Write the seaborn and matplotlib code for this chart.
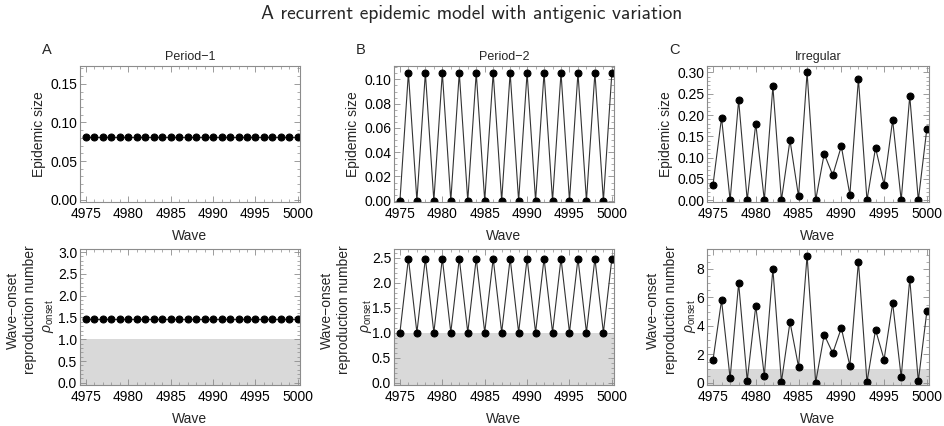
import matplotlib
matplotlib.use('Agg')
import matplotlib.pyplot as plt
from matplotlib.ticker import MultipleLocator
import seaborn as sns
import pandas as pd

# data
waves = list(range(4975, 5001))

size_p1 = [0.081, 0.081, 0.081, 0.081, 0.081, 0.081, 0.081, 0.081, 0.081, 0.081, 0.081, 0.081, 0.081,
           0.081, 0.081, 0.081, 0.081, 0.081, 0.081, 0.081, 0.081, 0.081, 0.081, 0.081, 0.081, 0.081]
rho_p1 = [1.46, 1.46, 1.46, 1.46, 1.46, 1.46, 1.46, 1.46, 1.46, 1.46, 1.46, 1.46, 1.46,
          1.46, 1.46, 1.46, 1.46, 1.46, 1.46, 1.46, 1.46, 1.46, 1.46, 1.46, 1.46, 1.46]

size_p2 = [0.0, 0.1055, 0.0, 0.1055, 0.0, 0.1055, 0.0, 0.1055, 0.0, 0.1055, 0.0, 0.1055, 0.0,
           0.1055, 0.0, 0.1055, 0.0, 0.1055, 0.0, 0.1055, 0.0, 0.1055, 0.0, 0.1055, 0.0, 0.1055]
rho_p2 = [1.0, 2.48, 1.0, 2.48, 1.0, 2.48, 1.0, 2.48, 1.0, 2.48, 1.0, 2.48, 1.0,
          2.48, 1.0, 2.48, 1.0, 2.48, 1.0, 2.48, 1.0, 2.48, 1.0, 2.48, 1.0, 2.48]

size_irr = [0.036, 0.194, 0.0, 0.235, 0.0, 0.180, 0.0, 0.267, 0.0, 0.141, 0.009, 0.300, 0.0,
            0.109, 0.059, 0.127, 0.013, 0.285, 0.0, 0.123, 0.037, 0.188, 0.0, 0.245, 0.0, 0.168]
rho_irr = [1.6, 5.8, 0.33, 7.0, 0.16, 5.4, 0.5, 8.0, 0.07, 4.27, 1.13, 8.94, 0.02,
           3.38, 2.09, 3.85, 1.2, 8.52, 0.05, 3.73, 1.64, 5.6, 0.4, 7.3, 0.12, 5.02]

titles = ['Period\u22121', 'Period\u22122', 'Irregular']
letters = ['A', 'B', 'C']
rho_label = ['Wave\u2212onset', 'reproduction number', '$\\rho_{\\mathrm{onset}}$']

sns.set_style('ticks')
plt.rcParams['font.family'] = ['Liberation Sans', 'DejaVu Sans']
plt.rcParams['mathtext.fontset'] = 'custom'
plt.rcParams['mathtext.it'] = 'Liberation Sans:italic'
plt.rcParams['mathtext.rm'] = 'Liberation Sans'

W, H = 944, 426
fig = plt.figure(figsize=(W / 100, H / 100), dpi=100)

def box(x0, y0, x1, y1):
    # pixel box -> figure fraction
    return [x0 / W, 1 - y1 / H, (x1 - x0) / W, (y1 - y0) / H]

top_boxes = [box(80, 66, 300, 202), box(394, 66, 614, 202), box(707, 66, 929, 202)]
bot_boxes = [box(80, 249, 300, 385), box(394, 249, 614, 385), box(707, 249, 929, 385)]
# x pixel centres of the three lines of the lower y label
rho_label_x = [(13, 30, 48), (327, 344, 366), (653, 671, 690)]

sizes = [size_p1, size_p2, size_irr]
rhos = [rho_p1, rho_p2, rho_irr]
top_ylims = [(-0.003, 0.173), (-0.001, 0.111), (-0.004, 0.315)]
top_major = [0.05, 0.02, 0.05]
top_minor = [0.01, 0.005, 0.01]
bot_ylims = [(-0.05, 3.07), (-0.05, 2.67), (-0.15, 9.4)]
bot_major = [0.5, 0.5, 2]
bot_minor = [0.1, 0.1, 0.5]
fmt_top = ['{:.2f}', '{:.2f}', '{:.2f}']
fmt_bot = ['{:.1f}', '{:.1f}', '{:.0f}']

grey = '#8c8c8c'


def style(ax, ylim, major, minor, fmt):
    ax.set_xlim(4974.3, 5000.25)
    ax.set_ylim(*ylim)
    ax.xaxis.set_major_locator(MultipleLocator(5))
    ax.xaxis.set_minor_locator(MultipleLocator(1))
    ax.yaxis.set_major_locator(MultipleLocator(major))
    ax.yaxis.set_minor_locator(MultipleLocator(minor))
    ax.yaxis.set_major_formatter(plt.FuncFormatter(lambda v, p: fmt.format(v)))
    ax.tick_params(which='both', direction='in', top=True, right=True, color=grey,
                   labelsize=10, pad=2, labelcolor='black')
    ax.tick_params(axis='x', pad=3.5)
    ax.tick_params(which='major', length=4, width=0.6)
    ax.tick_params(which='minor', length=2, width=0.5)
    for s in ax.spines.values():
        s.set_color(grey)
        s.set_linewidth(0.8)
    ax.set_xlabel('Wave', fontsize=10, labelpad=6)


for i in range(3):
    ax = fig.add_axes(top_boxes[i])
    df = pd.DataFrame({'wave': waves, 'value': sizes[i]})
    sns.lineplot(data=df, x='wave', y='value', ax=ax, color='#333333', linewidth=0.8,
                 marker='o', markersize=5, markerfacecolor='black', markeredgecolor='black')
    style(ax, top_ylims[i], top_major[i], top_minor[i], fmt_top[i])
    ax.set_ylabel('Epidemic size', fontsize=10, labelpad=3)
    ax.set_title(titles[i], fontsize=9, pad=4)
    fig.text(top_boxes[i][0] - 38 / W, 1 - 50 / H, letters[i], fontsize=10.5, va='center')

    ax2 = fig.add_axes(bot_boxes[i])
    df2 = pd.DataFrame({'wave': waves, 'value': rhos[i]})
    ax2.axhspan(bot_ylims[i][0], 1.0, color='#d9d9d9', lw=0, zorder=0)
    sns.lineplot(data=df2, x='wave', y='value', ax=ax2, color='#333333', linewidth=0.8,
                 marker='o', markersize=5, markerfacecolor='black', markeredgecolor='black')
    style(ax2, bot_ylims[i], bot_major[i], bot_minor[i], fmt_bot[i])
    ax2.set_ylabel('')
    for j, line in enumerate(rho_label):
        yc = 316 if j == 2 else 310
        fig.text(rho_label_x[i][j] / W, 1 - yc / H, line, rotation=90,
                 ha='center', va='center', fontsize=10)

fig.text(0.5, 1 - 14 / H, 'A recurrent epidemic model with antigenic variation',
         ha='center', va='center', fontsize=14, family='cmss10')

fig.savefig('out.png', dpi=100)
